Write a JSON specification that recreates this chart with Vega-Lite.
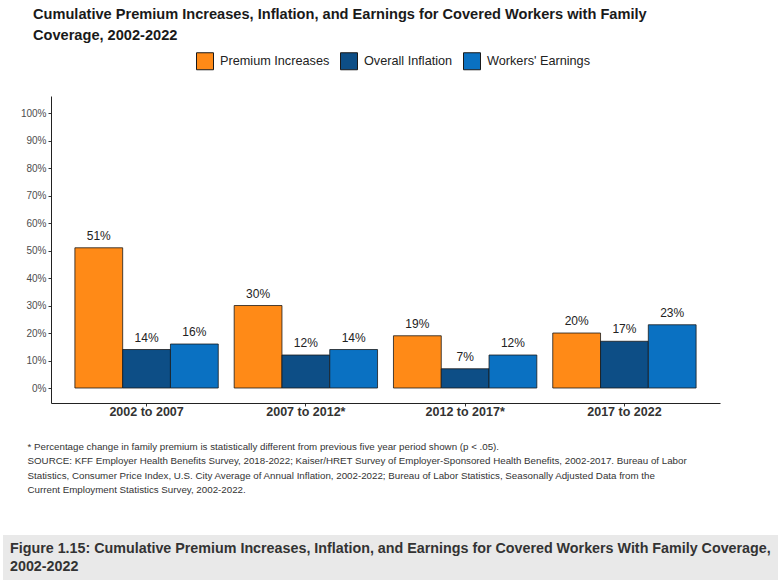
{
  "$schema": "https://vega.github.io/schema/vega-lite/v6.json",
  "padding": {"left": 3, "right": 2, "top": 7, "bottom": 0},
  "background": "white",
  "title": {
    "text": ["Cumulative Premium Increases, Inflation, and Earnings for Covered Workers with Family", "Coverage, 2002-2022"],
    "anchor": "start", "frame": "group", "dx": -18,
    "fontSize": 14.6, "fontWeight": "bold", "lineHeight": 21, "color": "#1a1a1a", "offset": 9
  },
  "spacing": 40,
  "vconcat": [
    {
      "width": 669,
      "height": 307,
      "data": {
        "values": [
          {"period": "2002 to 2007", "series": "Premium Increases", "value": 51, "label": "51%"},
          {"period": "2002 to 2007", "series": "Overall Inflation", "value": 14, "label": "14%"},
          {"period": "2002 to 2007", "series": "Workers' Earnings", "value": 16, "label": "16%"},
          {"period": "2007 to 2012*", "series": "Premium Increases", "value": 30, "label": "30%"},
          {"period": "2007 to 2012*", "series": "Overall Inflation", "value": 12, "label": "12%"},
          {"period": "2007 to 2012*", "series": "Workers' Earnings", "value": 14, "label": "14%"},
          {"period": "2012 to 2017*", "series": "Premium Increases", "value": 19, "label": "19%"},
          {"period": "2012 to 2017*", "series": "Overall Inflation", "value": 7, "label": "7%"},
          {"period": "2012 to 2017*", "series": "Workers' Earnings", "value": 12, "label": "12%"},
          {"period": "2017 to 2022", "series": "Premium Increases", "value": 20, "label": "20%"},
          {"period": "2017 to 2022", "series": "Overall Inflation", "value": 17, "label": "17%"},
          {"period": "2017 to 2022", "series": "Workers' Earnings", "value": 23, "label": "23%"}
        ]
      },
      "encoding": {
        "x": {
          "field": "period", "type": "nominal",
          "sort": ["2002 to 2007", "2007 to 2012*", "2012 to 2017*", "2017 to 2022"],
          "scale": {"paddingInner": 0.1, "paddingOuter": 0.15},
          "axis": {
            "labelAngle": 0, "labelFontSize": 12.5, "labelFontWeight": "bold", "labelColor": "#333",
            "labelPadding": -1, "tickSize": 3, "tickColor": "#333", "domainColor": "#222",
            "title": [
              "* Percentage change in family premium is statistically different from previous five year period shown (p < .05).",
              "SOURCE: KFF Employer Health Benefits Survey, 2018-2022; Kaiser/HRET Survey of Employer-Sponsored Health Benefits, 2002-2017. Bureau of Labor",
              "Statistics, Consumer Price Index, U.S. City Average of Annual Inflation, 2002-2022; Bureau of Labor Statistics, Seasonally Adjusted Data from the",
              "Current Employment Statistics Survey, 2002-2022."
            ],
            "titleFontSize": 9.75, "titleFontWeight": "normal", "titleColor": "#333",
            "titleLineHeight": 14.6, "titleAlign": "left", "titleAnchor": "start",
            "titleBaseline": "top", "titleX": -24, "titleY": 38
          }
        },
        "xOffset": {
          "field": "series", "type": "nominal",
          "sort": ["Premium Increases", "Overall Inflation", "Workers' Earnings"],
          "scale": {"paddingInner": 0, "paddingOuter": 0}
        },
        "y": {
          "field": "value", "type": "quantitative",
          "scale": {"domain": [-5.45, 106.2], "nice": false, "zero": false},
          "axis": {
            "values": [0, 10, 20, 30, 40, 50, 60, 70, 80, 90, 100],
            "labelExpr": "datum.value + '%'",
            "grid": false, "tickSize": 3, "tickColor": "#333", "domainColor": "#222",
            "labelFontSize": 10, "labelColor": "#4d4d4d", "labelPadding": 2,
            "title": ".", "titleOpacity": 0, "titleAngle": 0, "titleX": -48, "titleY": 0,
            "titleAlign": "left", "titleBaseline": "top"
          }
        }
      },
      "layer": [
        {
          "mark": {"type": "bar", "stroke": "#1a1a1a", "strokeWidth": 0.8},
          "encoding": {
            "color": {
              "field": "series", "type": "nominal",
              "scale": {
                "domain": ["Premium Increases", "Overall Inflation", "Workers' Earnings"],
                "range": ["#FF8A17", "#0D4E86", "#0A71C2"]
              },
              "legend": {
                "orient": "none", "legendX": 145, "legendY": -44, "direction": "horizontal",
                "title": null, "symbolType": "square", "symbolSize": 289,
                "symbolStrokeColor": "#1a1a1a", "symbolStrokeWidth": 1, "symbolOpacity": 1,
                "labelFontSize": 12.7, "labelColor": "#222", "labelOffset": 6, "columnPadding": 8
              }
            }
          }
        },
        {
          "mark": {"type": "text", "baseline": "bottom", "dy": -5, "fontSize": 12, "color": "#222"},
          "encoding": {"text": {"field": "label", "type": "nominal"}}
        }
      ]
    },
    {
      "width": 669,
      "height": 45,
      "data": {"values": [{"start": 0, "end": 1}]},
      "encoding": {
        "x": {"field": "start", "type": "quantitative", "scale": {"domain": [0, 1], "range": [-48, 727]}, "axis": null}
      },
      "layer": [
        {
          "mark": {"type": "rect", "color": "#e9e9e9"},
          "encoding": {"x2": {"field": "end"}}
        },
        {
          "mark": {
            "type": "text",
            "text": ["Figure 1.15: Cumulative Premium Increases, Inflation, and Earnings for Covered Workers With Family Coverage,", "2002-2022"],
            "align": "left", "baseline": "middle", "dx": 7, "dy": -9, "fontSize": 14.3, "fontWeight": "bold",
            "color": "#333", "lineHeight": 18
          }
        }
      ]
    }
  ],
  "config": {
    "view": {"stroke": null},
    "font": "Liberation Sans"
  }
}
